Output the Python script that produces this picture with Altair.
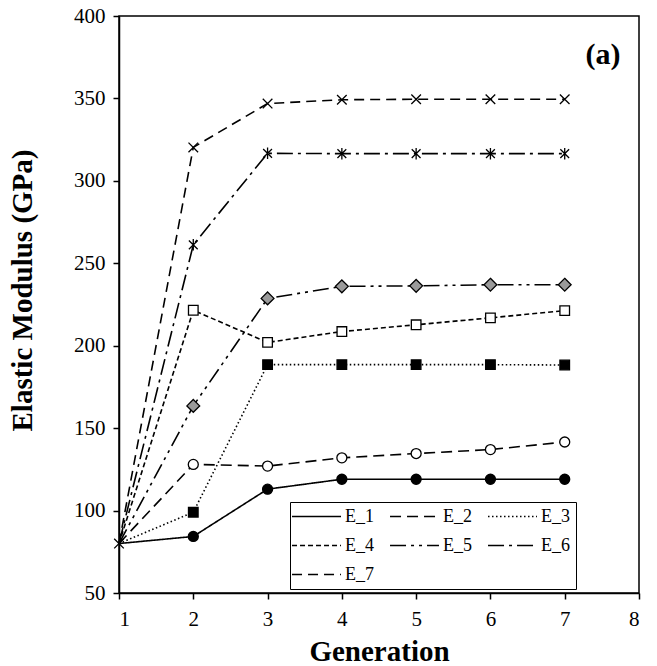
import altair as alt
import pandas as pd

generations = [1, 2, 3, 4, 5, 6, 7]
series_names = ["E_1", "E_2", "E_3", "E_4", "E_5", "E_6", "E_7"]
E_1 = [80, 84.3, 113, 119, 119, 119, 119]
E_2 = [80, 128, 127, 132, 134.6, 137, 141.6]
E_3 = [80, 99, 188.5, 188.5, 188.5, 188.5, 188.3]
E_4 = [80, 221.5, 202, 208.6, 212.7, 216.9, 221.3]
E_5 = [80, 163.5, 228.7, 236, 236.3, 237, 237]
E_6 = [80, 261.2, 316.7, 316.5, 316.5, 316.5, 316.5]
E_7 = [80, 320.3, 346.9, 349.2, 349.5, 349.5, 349.5]
x_ticks = [1, 2, 3, 4, 5, 6, 7, 8]
y_ticks = [50, 100, 150, 200, 250, 300, 350, 400]
panel_label = ["(a)"]
panel_label_pos = [7.515, 376.3]

values = [E_1, E_2, E_3, E_4, E_5, E_6, E_7]
rows = []
for name, vals in zip(series_names, values):
    for g, v in zip(generations, vals):
        rows.append({"generation": g, "modulus": v, "series": name})
df = pd.DataFrame(rows)

# ---- styles ----
dashes = [[1, 0], [11, 6], [1.5, 2.5], [5, 3], [16, 5, 3, 5, 3, 5], [16, 5, 3, 5], [10, 6]]
circle = "M-0.625,0A0.625,0.625 0 1,0 0.625,0A0.625,0.625 0 1,0 -0.625,0Z"
square = "M-0.6,-0.6H0.6V0.6H-0.6Z"
diamond = "M0,-0.8L0.8,0L0,0.8L-0.8,0Z"
star = "M-0.55,-0.55L0.55,0.55M-0.55,0.55L0.55,-0.55M0,-0.72V0.72"
cross = "M-0.6,-0.6L0.6,0.6M-0.6,0.6L0.6,-0.6"
markers = [circle, circle, square, square, diamond, star, cross]
fills = ["black", "white", "black", "white", "#9a9a9a", "white", "white"]

SYM = 256
FONT = "Liberation Serif"

x_enc = alt.X("generation:Q", scale=alt.Scale(domain=[1, 8], nice=False),
              axis=alt.Axis(values=x_ticks, format="d", title="Generation",
                            titleY=67, titleBaseline="alphabetic", labelPadding=9))
y_enc = alt.Y("modulus:Q", scale=alt.Scale(domain=[50, 400], nice=False),
              axis=alt.Axis(values=y_ticks, format="d", title="Elastic Modulus (GPa)",
                            titleX=-88, titleY=274, titleBaseline="alphabetic",
                            labelPadding=8))

legend_spec = alt.Legend(
    orient="none", legendX=171, legendY=486, columns=3, direction="horizontal",
    title=None, symbolType="M-3.06,0H3.06", symbolSize=SYM,
    symbolStrokeColor="black", symbolStrokeWidth=1.5, symbolFillColor="transparent",
    labelFont=FONT, labelFontSize=18, labelColor="black",
    labelOffset=19.5, symbolOffset=12, padding=5.5, rowPadding=11,
    columnPadding=12, labelExpr="datum.label + '\u00a0\u00a0'",
    strokeColor="black", fillColor="white",
)

lines = alt.Chart(df).mark_line(color="black", strokeWidth=1.6).encode(
    x=x_enc, y=y_enc,
    strokeDash=alt.StrokeDash("series:N", scale=alt.Scale(domain=series_names, range=dashes),
                              legend=legend_spec),
    detail="series:N",
)

point_layers = []
for name, m, f in zip(series_names, markers, fills):
    cond = f"datum.series == '{name}' && (datum.generation > 1 || datum.series == 'E_7')"
    point_layers.append(
        alt.Chart(df).transform_filter(cond).mark_point(
            shape=m, fill=f, stroke="black", strokeWidth=1.3, opacity=1,
            fillOpacity=1, size=SYM
        ).encode(x="generation:Q", y="modulus:Q")
    )

label_df = pd.DataFrame({"generation": [panel_label_pos[0]], "modulus": [panel_label_pos[1]],
                         "text": panel_label})
label = alt.Chart(label_df).mark_text(font=FONT, fontSize=30, fontWeight="bold",
                                      align="center", baseline="middle", color="black").encode(
    x="generation:Q", y="modulus:Q", text="text:N")

chart = alt.layer(lines, *point_layers, label).properties(
    width=520, height=577,
    background="white",
    autosize=alt.AutoSizeParams(type="none"),
    padding={"left": 111, "top": 8, "right": 10, "bottom": 73},
).configure_view(stroke="black", strokeWidth=1.5).configure_axis(
    grid=False, domainColor="black", domainWidth=1.5, tickColor="black", tickWidth=1.5,
    tickSize=6, labelFont=FONT, labelFontSize=21, labelColor="black",
    titleFont=FONT, titleFontSize=29, titleFontWeight="bold", titleColor="black",
)

chart.save("out.html", embed_options={"renderer": "svg", "actions": False})
